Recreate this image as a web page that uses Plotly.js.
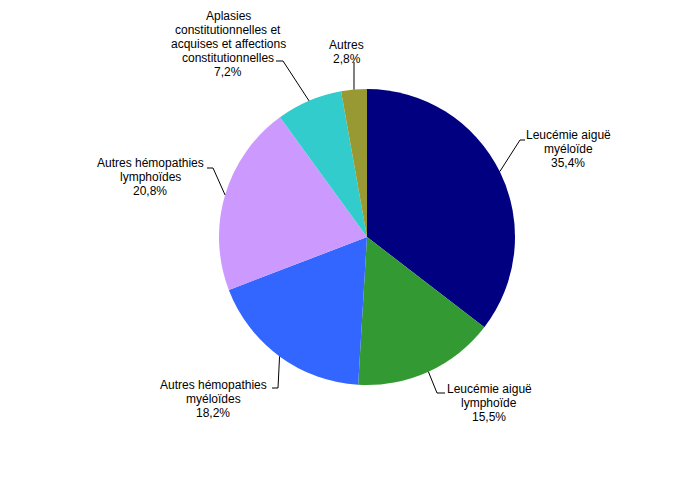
<!DOCTYPE html>
<html>
<head>
<meta charset="utf-8">
<script src="https://cdn.plot.ly/plotly-3.0.1.min.js"></script>
<style>
  html, body { margin:0; padding:0; background:#fff; }
  #chart { width:692px; height:480px; }
</style>
</head>
<body>
<div id="chart"></div>
<script>
// ---- data ----
const labels = [
  'Leucémie aiguë myéloïde',
  'Leucémie aiguë lymphoïde',
  'Autres hémopathies myéloïdes',
  'Autres hémopathies lymphoïdes',
  'Aplasies constitutionnelles et acquises et affections constitutionnelles',
  'Autres'
];
const values = [35.4, 15.5, 18.2, 20.8, 7.2, 2.8];
const labelLines = [
  ['Leucémie aiguë', 'myéloïde'],
  ['Leucémie aiguë', 'lymphoïde'],
  ['Autres hémopathies', 'myéloïdes'],
  ['Autres hémopathies', 'lymphoïdes'],
  ['Aplasies', 'constitutionnelles et', 'acquises et affections', 'constitutionnelles'],
  ['Autres']
];
const colors = ['#000080', '#339933', '#3366FF', '#CC99FF', '#33CCCC', '#999933'];

// ---- layout geometry (pixels) ----
const W = 692, H = 480;
const cx = 367, cy = 237, R = 148;
const lineH = 14;
// label block centre, elbow of leader line, end of short horizontal
const labelPos = [
  { x: 568, y: 149, ex: 520, ey: 140, hx: 525 },
  { x: 489, y: 403, ex: 437, ey: 393, hx: 445 },
  { x: 213, y: 399, ex: 278, ey: 388, hx: 272 },
  { x: 150, y: 177, ex: 213, ey: 168, hx: 207 },
  { x: 228, y: 44,  ex: 283, ey: 61,  hx: 276 },
  { x: 347, y: 52,  ex: 354, ey: 62,  hx: 354 }
];

const px = x => x / W;
const py = y => 1 - y / H;
const fmt = v => v.toFixed(1).replace('.', ',') + '%';

// anchor points on the pie edge at each slice's mid angle (clockwise from 12 o'clock)
const total = values.reduce((a, b) => a + b, 0);
let cum = 0;
const shapes = [];
const annotations = [];
values.forEach((v, i) => {
  const mid = (cum + v / 2) / total * 2 * Math.PI;
  cum += v;
  const ax = cx + R * Math.sin(mid);
  const ay = cy - R * Math.cos(mid);
  const p = labelPos[i];
  shapes.push({
    type: 'path', xref: 'paper', yref: 'paper',
    path: `M ${px(ax)} ${py(ay)} L ${px(p.ex)} ${py(p.ey)} L ${px(p.hx)} ${py(p.ey)}`,
    line: { color: '#000', width: 1 }
  });
  const lines = labelLines[i].concat([fmt(v)]);
  lines.forEach((t, j) => {
    annotations.push({
      xref: 'paper', yref: 'paper',
      x: px(p.x), y: py(p.y + (j - (lines.length - 1) / 2) * lineH),
      xanchor: 'center', yanchor: 'middle',
      text: t, showarrow: false,
      font: { family: 'Liberation Sans, Arial, sans-serif', size: 12, color: '#000' }
    });
  });
});

Plotly.newPlot('chart', [{
  type: 'pie',
  labels: labels,
  values: values,
  sort: false,
  direction: 'clockwise',
  rotation: 0,
  textinfo: 'none',
  hoverinfo: 'label+percent',
  marker: { colors: colors, line: { width: 0 } },
  domain: {
    x: [px(cx - R), px(cx + R)],
    y: [py(cy + R), py(cy - R)]
  }
}], {
  width: W, height: H,
  margin: { l: 0, r: 0, t: 0, b: 0 },
  showlegend: false,
  paper_bgcolor: '#fff',
  shapes: shapes,
  annotations: annotations
}, { staticPlot: true });
</script>
</body>
</html>
